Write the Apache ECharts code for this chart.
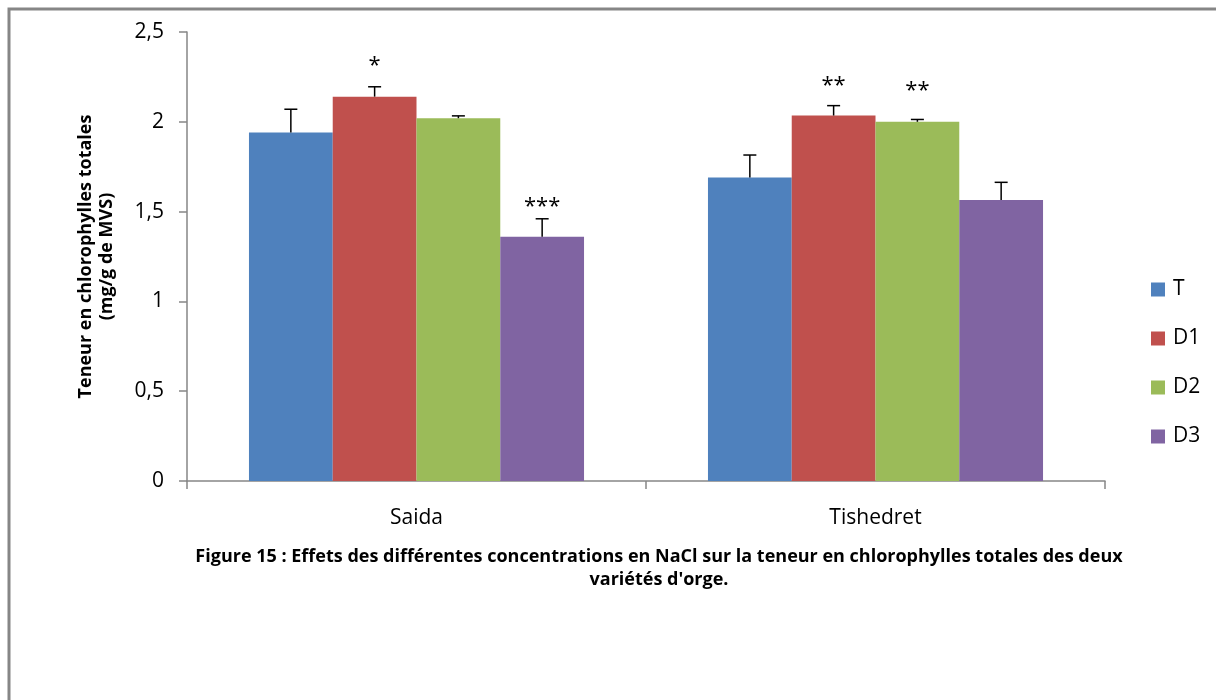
<!DOCTYPE html>
<html>
<head>
<meta charset="utf-8">
<script src="https://cdn.jsdelivr.net/npm/echarts@6/dist/echarts.min.js"></script>
<style>
html,body{margin:0;padding:0;background:#fff;}
#chart{width:1216px;height:700px;}
</style>
</head>
<body>
<div id="chart"></div>
<script>
// ---- data ----
const categories = ['Saida', 'Tishedret'];
const seriesNames = ['T', 'D1', 'D2', 'D3'];
const valuesT  = [1.94, 1.69];
const valuesD1 = [2.14, 2.035];
const valuesD2 = [2.02, 2.00];
const valuesD3 = [1.36, 1.565];
const errT  = [0.13, 0.125];
const errD1 = [0.055, 0.055];
const errD2 = [0.013, 0.013];
const errD3 = [0.10, 0.098];
const starsT  = ['', ''];
const starsD1 = ['*', '**'];
const starsD2 = ['', '**'];
const starsD3 = ['***', ''];
const yTicks = [0, 0.5, 1, 1.5, 2, 2.5];
const figureCaption = "Figure 15 : Effets des différentes concentrations en NaCl sur la teneur en chlorophylles totales des deux\nvariétés d'orge.";
const yAxisName = 'Teneur en chlorophylles totales\n(mg/g de MVS)';

// ---- styling ----
const colors = ['#4F81BD', '#C0504D', '#9BBB59', '#8064A2'];
const allValues = [valuesT, valuesD1, valuesD2, valuesD3];
const allErr = [errT, errD1, errD2, errD3];
const allStars = [starsT, starsD1, starsD2, starsD3];
// manual label placement (pixels above error bar cap), as in the original
const starLift = [[0, 0], [23, 22], [0, 31], [14, 0]];
const catGap = 0.27;

const errData = [];
for (let s = 0; s < 4; s++) {
  for (let c = 0; c < categories.length; c++) {
    errData.push([c, s, allValues[s][c], allErr[s][c], allStars[s][c], starLift[s][c]]);
  }
}

const chart = echarts.init(document.getElementById('chart'));
const option = {
  animation: false,
  backgroundColor: '#fff',
  textStyle: { fontFamily: 'Open Sans' },
  grid: { left: 187, right: 111, top: 32, bottom: 219, containLabel: false },
  legend: {
    orient: 'vertical',
    left: 1146,
    top: 274,
    itemWidth: 14,
    itemHeight: 14,
    itemGap: 28,
    icon: 'rect',
    textStyle: { fontFamily: 'Open Sans', fontSize: 21, color: '#000', padding: [0, 0, 0, 3] },
    data: seriesNames
  },
  xAxis: {
    type: 'category',
    data: categories,
    axisLine: { lineStyle: { color: '#868686', width: 1.5 } },
    axisTick: { show: true, length: 8, lineStyle: { color: '#868686', width: 1.5 } },
    axisLabel: { color: '#000', fontSize: 21, fontFamily: 'Open Sans', margin: 27 }
  },
  yAxis: {
    type: 'value',
    min: 0, max: 2.5, interval: 0.5,
    name: yAxisName,
    nameLocation: 'middle',
    nameGap: 70,
    nameRotate: 90,
    nameTextStyle: { color: '#000', fontSize: 18, fontWeight: 'bold', fontFamily: 'Open Sans', lineHeight: 21 },
    splitLine: { show: false },
    axisLine: { show: true, lineStyle: { color: '#868686', width: 1.5 } },
    axisTick: { show: true, length: 8, lineStyle: { color: '#868686', width: 1.5 } },
    axisLabel: {
      color: '#000', fontSize: 21, fontFamily: 'Open Sans', margin: 23,
      formatter: v => String(v).replace('.', ',')
    }
  },
  series: seriesNames.map((n, i) => ({
    name: n,
    type: 'bar',
    data: allValues[i],
    barGap: '0%',
    barCategoryGap: (catGap * 100) + '%',
    itemStyle: { color: colors[i] }
  })).concat([{
    type: 'custom',
    data: errData,
    z: 10,
    silent: true,
    encode: { x: 0, y: 2 },
    renderItem: function (params, api) {
      const c = api.value(0), s = api.value(1), v = api.value(2), e = api.value(3);
      const star = errData[params.dataIndex][4];
      const lift = errData[params.dataIndex][5];
      const bandW = api.size([1, 0])[0];
      const barW = bandW * (1 - catGap) / 4;
      const cx = api.coord([c, 0])[0] + (s - 1.5) * barW;
      const yTop = api.coord([c, v])[1];
      const yErr = api.coord([c, v + e])[1];
      const children = [
        { type: 'line', shape: { x1: cx, y1: yTop, x2: cx, y2: yErr }, style: { stroke: '#000', lineWidth: 1.5 } },
        { type: 'line', shape: { x1: cx - 6.5, y1: yErr, x2: cx + 6.5, y2: yErr }, style: { stroke: '#000', lineWidth: 1.5 } }
      ];
      if (star) {
        children.push({
          type: 'text',
          style: {
            text: star, x: cx, y: yErr - lift + 2,
            textAlign: 'center', textVerticalAlign: 'middle',
            font: '22px "Open Sans"', fill: '#000'
          }
        });
      }
      return { type: 'group', children: children };
    }
  }]),
  graphic: [
    {
      type: 'rect',
      shape: { x: 9, y: 9, width: 1400, height: 900 },
      style: { fill: 'none', stroke: '#868686', lineWidth: 3 },
      silent: true
    },
    {
      type: 'text',
      x: 659,
      y: 545,
      style: {
        text: figureCaption,
        textAlign: 'center',
        font: 'bold 18px "Open Sans"',
        lineHeight: 23,
        fill: '#000'
      }
    }
  ]
};
chart.setOption(option);
</script>
</body>
</html>
